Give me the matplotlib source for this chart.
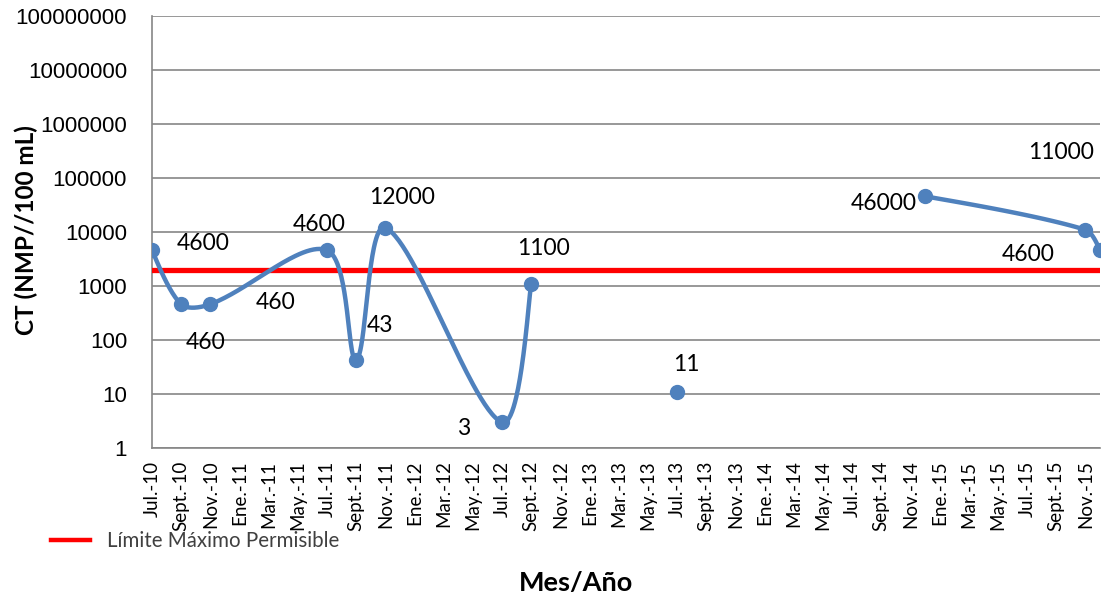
import numpy as np
import matplotlib
matplotlib.use("Agg")
import matplotlib.pyplot as plt
from matplotlib.lines import Line2D

# ---- data -------------------------------------------------------------
inicio = "2010-07"
fin = "2015-12"
fechas = ["2010-07", "2010-09", "2010-11", "2011-07", "2011-09", "2011-11",
          "2012-07", "2012-09", "2013-07", "2014-12", "2015-11", "2015-12"]
ct = [4600, 460, 460, 4600, 43, 12000, 3, 1100, 11, 46000, 11000, 4600]
tramo = [0, 0, 0, 0, 0, 0, 0, 0, 1, 2, 2, 2]   # connected runs of samples
limite = 2000

etiquetas_x = ["Jul.-10", "Sept.-10", "Nov.-10", "Ene.-11", "Mar.-11", "May.-11",
               "Jul.-11", "Sept.-11", "Nov.-11", "Ene.-12", "Mar.-12", "May.-12",
               "Jul.-12", "Sept.-12", "Nov.-12", "Ene.-13", "Mar.-13", "May.-13",
               "Jul.-13", "Sept.-13", "Nov.-13", "Ene.-14", "Mar.-14", "May.-14",
               "Jul.-14", "Sept.-14", "Nov.-14", "Ene.-15", "Mar.-15", "May.-15",
               "Jul.-15", "Sept.-15", "Nov.-15"]
ticks_y = [1, 10, 100, 1000, 10000, 100000, 1000000, 10000000, 100000000]

# label offsets in pixels (dx, dy) for each sample
offs = [(51, 7), (24, -38), (65, 2), (-8, 26), (24, 34), (17, 30),
        (-38, -6), (12, 35), (9, 27), (-41, -7), (-24, 77), (-72, -4)]


def mes(s):
    yy, mm = s.split("-")
    return int(yy) * 12 + int(mm) - 1


m0 = mes(inicio)
x = np.array([mes(f) - m0 for f in fechas], dtype=float)
y = np.array(ct, dtype=float)

AZUL = "#4F81BD"
GRIS = "#868686"
FONT = "Lato"

fig = plt.figure(figsize=(11.02, 6.02), dpi=100)
W, H = 1102, 602
ax = fig.add_axes([152 / W, 1 - 448 / H, (1100 - 152) / W, (448 - 16) / H])
ax.set_yscale("log")
ax.set_xlim(0, mes(fin) - m0)
ax.set_ylim(1, 1e8)

ax.set_yticks(ticks_y)
ax.set_yticklabels([str(v) for v in ticks_y], fontfamily="Liberation Sans", fontsize=16)
ax.minorticks_off()
ax.set_xticks(np.arange(0, len(etiquetas_x) * 2, 2))
ax.set_xticklabels(etiquetas_x, rotation=90, fontfamily=FONT, fontsize=13.5)
ax.tick_params(axis="y", length=0, pad=18)
ax.tick_params(axis="x", length=0, pad=9)

ax.grid(axis="y", color=GRIS, lw=1.2)
ax.set_axisbelow(True)
for s in ["top", "right"]:
    ax.spines[s].set_visible(False)
for s in ["left", "bottom"]:
    ax.spines[s].set_color(GRIS)
    ax.spines[s].set_linewidth(1.2)

# limit line
ax.axhline(limite, color="#FF0000", lw=3.8, zorder=3)

# smoothed series: cubic Bezier through the samples, built in display space
fig.canvas.draw()
tr = ax.transData
tt = np.linspace(0, 1, 60)[:, None]
for t in sorted(set(tramo)):
    idx = [i for i, v in enumerate(tramo) if v == t]
    pts = tr.transform(np.column_stack([x[idx], y[idx]]))
    n = len(pts)
    if n > 1:
        d = np.linalg.norm(np.diff(pts, axis=0), axis=1)
        seg = []
        for i in range(n - 1):
            p0, p1 = pts[i], pts[i + 1]
            prev = pts[i - 1] if i > 0 else p0
            nxt = pts[i + 2] if i + 2 < n else p1
            dprev = d[i - 1] if i > 0 else d[i]
            dnext = d[i + 1] if i + 2 < n else d[i]
            c1 = p0 + (p1 - prev) * d[i] / (dprev + d[i]) / 3 * (1 if i > 0 else 0.5)
            c2 = p1 - (nxt - p0) * d[i] / (d[i] + dnext) / 3 * (1 if i + 2 < n else 0.5)
            seg.append((1 - tt) ** 3 * p0 + 3 * (1 - tt) ** 2 * tt * c1
                       + 3 * (1 - tt) * tt ** 2 * c2 + tt ** 3 * p1)
        dat = tr.inverted().transform(np.vstack(seg))
        ax.plot(dat[:, 0], dat[:, 1], color=AZUL, lw=3.2, solid_capstyle="round",
                solid_joinstyle="round", zorder=4)
    ax.plot(x[idx], y[idx], "o", color=AZUL, ms=10, zorder=5)

# data labels
for xi, yi, v, (dx, dy) in zip(x, y, ct, offs):
    ax.annotate(str(v), (xi, yi), xytext=(dx * 0.72, dy * 0.72),
                textcoords="offset points", ha="center", va="center",
                fontfamily=FONT, fontsize=16.5, color="#000000",
                annotation_clip=False, zorder=6)

ax.set_ylabel("CT (NMP//100 mL)", fontfamily=FONT, fontsize=17.5, fontweight="bold")
ax.yaxis.set_label_coords(-0.12, 0.505)
ax.set_xlabel("Mes/Año", fontfamily=FONT, fontsize=19.5, fontweight="bold")
ax.xaxis.set_label_coords(0.447, -0.285)

leg_handle = Line2D([], [], color="#FF0000", lw=3.2)
fig.legend([leg_handle], ["Límite Máximo Permisible"], loc="center left",
           bbox_to_anchor=(32 / W, 1 - 541 / H), frameon=False,
           prop={"family": FONT, "size": 14.8}, labelcolor="#404040",
           handlelength=1.9, handletextpad=0.85)

fig.savefig("out.png", dpi=100)
